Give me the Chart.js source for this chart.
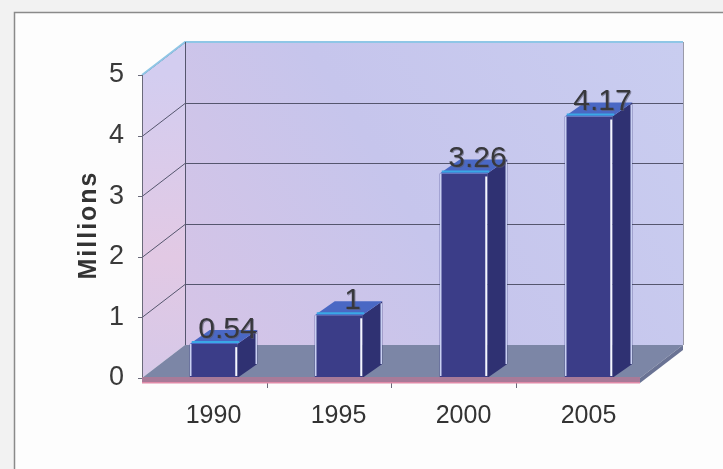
<!DOCTYPE html>
<html>
<head>
<meta charset="utf-8">
<script src="https://cdn.jsdelivr.net/npm/chart.js@4.4.1/dist/chart.umd.min.js"></script>
<style>
  html, body { margin: 0; padding: 0; background: #f4f4f4; }
  #wrap { width: 723px; height: 469px; position: relative; }
</style>
</head>
<body>
<div id="wrap"><canvas id="chart"></canvas></div>
<script>
// values
const years = ['1990', '1995', '2000', '2005'];
const millions = [0.54, 1, 3.26, 4.17];
const yTicks = [0, 1, 2, 3, 4, 5];
const yTitle = 'Millions';

// 3d look
const depthX = 43, depthY = -33;   // depth of the box
const barDX = 20, barDY = -14;     // depth of each bar

const box3d = {
    id: 'box3d',
    beforeDraw(chart) {
        const ctx = chart.ctx;
        ctx.save();
        ctx.fillStyle = '#f2f2f2';
        ctx.fillRect(0, 0, chart.width, chart.height);
        ctx.fillStyle = '#fdfdfd';
        ctx.fillRect(15, 13, chart.width - 15, chart.height - 13);
        ctx.strokeStyle = '#8a8a8a';
        ctx.lineWidth = 1.5;
        ctx.beginPath();
        ctx.moveTo(14.5, chart.height);
        ctx.lineTo(14.5, 12.5);
        ctx.lineTo(chart.width, 12.5);
        ctx.stroke();
        ctx.restore();
    },
    beforeDatasetsDraw(chart) {
        const ctx = chart.ctx;
        const ca = chart.chartArea;
        const y = chart.scales.y;
        const fl = ca.left - 9, fr = ca.right - 11;
        const top = y.getPixelForValue(5), bot = y.getPixelForValue(0);
        ctx.save();

        // back wall
        let g = ctx.createLinearGradient(fl + depthX, bot + depthY, fr + depthX, top + depthY);
        g.addColorStop(0, '#d6c4e6');
        g.addColorStop(0.45, '#c6c5ec');
        g.addColorStop(1, '#c9cdf0');
        ctx.fillStyle = g;
        ctx.fillRect(fl + depthX, top + depthY, fr - fl, bot - top);

        // side wall
        g = ctx.createLinearGradient(0, top, 0, bot);
        g.addColorStop(0, '#d3cdf0');
        g.addColorStop(0.6, '#e2c9e4');
        g.addColorStop(1, '#d6c8e8');
        ctx.fillStyle = g;
        ctx.beginPath();
        ctx.moveTo(fl, bot);
        ctx.lineTo(fl, top);
        ctx.lineTo(fl + depthX, top + depthY);
        ctx.lineTo(fl + depthX, bot + depthY);
        ctx.closePath();
        ctx.fill();

        // grid lines
        ctx.strokeStyle = '#55566e';
        ctx.lineWidth = 1;
        yTicks.forEach(v => {
            if (v === 0) return;
            const py = Math.round(y.getPixelForValue(v)) + 0.5;
            ctx.beginPath();
            ctx.moveTo(fl, py);
            ctx.lineTo(fl + depthX, py + depthY);
            ctx.lineTo(fr + depthX, py + depthY);
            ctx.stroke();
        });
        ctx.strokeStyle = '#8fc6e6';
        ctx.lineWidth = 2;
        ctx.beginPath();
        ctx.moveTo(fl, top);
        ctx.lineTo(fl + depthX, top + depthY);
        ctx.lineTo(fr + depthX, top + depthY);
        ctx.stroke();
        ctx.strokeStyle = '#55566e';
        ctx.lineWidth = 1;
        ctx.beginPath();
        ctx.moveTo(fl + depthX + 0.5, top + depthY);
        ctx.lineTo(fl + depthX + 0.5, bot + depthY);
        ctx.stroke();
        ctx.strokeStyle = '#9a9aa8';
        ctx.beginPath();
        ctx.moveTo(fr + depthX + 0.5, top + depthY);
        ctx.lineTo(fr + depthX + 0.5, bot + depthY);
        ctx.stroke();

        // floor
        ctx.fillStyle = '#7c86a6';
        ctx.beginPath();
        ctx.moveTo(fl, bot);
        ctx.lineTo(fr, bot);
        ctx.lineTo(fr + depthX, bot + depthY);
        ctx.lineTo(fl + depthX, bot + depthY);
        ctx.closePath();
        ctx.fill();
        ctx.fillStyle = '#6a7394';
        ctx.beginPath();
        ctx.moveTo(fr, bot);
        ctx.lineTo(fr + depthX, bot + depthY);
        ctx.lineTo(fr + depthX, bot + depthY + 5);
        ctx.lineTo(fr, bot + 5);
        ctx.closePath();
        ctx.fill();

        // front axis
        ctx.strokeStyle = '#6a6a7a';
        ctx.beginPath();
        ctx.moveTo(fl + 0.5, top);
        ctx.lineTo(fl + 0.5, bot + 5);
        ctx.stroke();
        yTicks.forEach(v => {
            const py = Math.round(y.getPixelForValue(v)) + 0.5;
            ctx.beginPath();
            ctx.moveTo(fl - 4, py);
            ctx.lineTo(fl, py);
            ctx.stroke();
        });
        // category ticks under the floor
        const step = (fr - fl) / years.length;
        for (let i = 1; i < years.length; i++) {
            const px = Math.round(fl + step * i) + 0.5;
            ctx.beginPath();
            ctx.moveTo(px, bot + 5);
            ctx.lineTo(px, bot + 10);
            ctx.stroke();
        }
        ctx.restore();
    },
    afterDatasetsDraw(chart) {
        const ctx = chart.ctx;
        const ca = chart.chartArea;
        const bot = chart.scales.y.getPixelForValue(0);
        const fl = ca.left - 9, fr = ca.right - 11;
        const meta = chart.getDatasetMeta(0);
        ctx.save();
        meta.data.forEach((bar, i) => {
            const x1 = bar.x - bar.width / 2, x2 = bar.x + bar.width / 2;
            const ty = bar.y, by = bar.base;
            // side face
            ctx.fillStyle = '#2f3172';
            ctx.beginPath();
            ctx.moveTo(x2, ty);
            ctx.lineTo(x2 + barDX, ty + barDY);
            ctx.lineTo(x2 + barDX, by + barDY);
            ctx.lineTo(x2, by);
            ctx.closePath();
            ctx.fill();
            // top face
            ctx.fillStyle = '#4a68c4';
            ctx.beginPath();
            ctx.moveTo(x1, ty);
            ctx.lineTo(x2, ty);
            ctx.lineTo(x2 + barDX, ty + barDY);
            ctx.lineTo(x1 + barDX, ty + barDY);
            ctx.closePath();
            ctx.fill();
            ctx.strokeStyle = '#3aa8e6';
            ctx.lineWidth = 2;
            ctx.beginPath();
            ctx.moveTo(x1 + 2, ty - 2);
            ctx.lineTo(x2 + 2, ty - 2);
            ctx.stroke();
            // highlights
            ctx.strokeStyle = '#f4f6ff';
            ctx.lineWidth = 2;
            ctx.beginPath();
            ctx.moveTo(x2 - 1, ty + 3);
            ctx.lineTo(x2 - 1, by - 2);
            ctx.stroke();
            ctx.strokeStyle = '#c9d0f2';
            ctx.lineWidth = 1.5;
            ctx.beginPath();
            ctx.moveTo(x1 + 1, ty);
            ctx.lineTo(x1 + 1, by - 2);
            ctx.moveTo(x2 + barDX - 1, ty + barDY + 2);
            ctx.lineTo(x2 + barDX - 1, by + barDY);
            ctx.stroke();
        });

        // front edge of the floor slab, in front of the bar feet
        ctx.fillStyle = '#a87a98';
        ctx.fillRect(fl, bot - 1, fr - fl, 6);
        ctx.fillStyle = '#e08aa8';
        ctx.fillRect(fl, bot + 4, fr - fl, 1.5);

        // value labels
        meta.data.forEach((bar, i) => {
            ctx.font = '30px "Liberation Sans", Arial, sans-serif';
            ctx.textAlign = 'center';
            ctx.textBaseline = 'alphabetic';
            const lx = bar.x + 14, ly = bar.y - 6;
            ctx.fillStyle = 'rgba(90,90,110,0.6)';
            ctx.fillText(String(millions[i]), lx + 1, ly + 1);
            ctx.fillStyle = '#38383c';
            ctx.fillText(String(millions[i]), lx, ly);
        });

        // axis title
        ctx.translate(96, 226);
        ctx.rotate(-Math.PI / 2);
        ctx.font = 'bold 25px "Liberation Sans", Arial, sans-serif';
        ctx.letterSpacing = '2px';
        ctx.textAlign = 'center';
        ctx.textBaseline = 'alphabetic';
        ctx.fillStyle = '#333';
        ctx.fillText(yTitle, 1, 0);
        ctx.restore();
    }
};

new Chart(document.getElementById('chart'), {
    type: 'bar',
    data: {
        labels: years,
        datasets: [{
            data: millions,
            yAxisID: 'yBars',
            backgroundColor: '#3b3d88',
            borderWidth: 0,
            categoryPercentage: 1,
            barPercentage: 0.38
        }]
    },
    options: {
        responsive: true,
        maintainAspectRatio: false,
        animation: false,
        layout: { padding: { left: 0, top: 75, right: 72, bottom: 0 } },
        plugins: { legend: { display: false }, tooltip: { enabled: false } },
        scales: {
            x: {
                grid: { display: false },
                border: { display: false },
                ticks: {
                    color: '#333',
                    padding: 15,
                    font: { family: '"Liberation Sans", Arial, sans-serif', size: 25 }
                },
                afterFit: s => { s.height = 91; }
            },
            y: {
                min: 0,
                max: 5,
                grid: { display: false },
                border: { display: false },
                ticks: {
                    stepSize: 1,
                    color: '#3a3a3a',
                    padding: 19,
                    font: { family: '"Liberation Sans", Arial, sans-serif', size: 27 }
                },
                afterFit: s => { s.width = 151; }
            },
            // bars stand a little deeper than the front axis, so they read slightly taller
            yBars: { display: false, min: 0, max: 4.83 }
        }
    },
    plugins: [box3d]
});
</script>
</body>
</html>
